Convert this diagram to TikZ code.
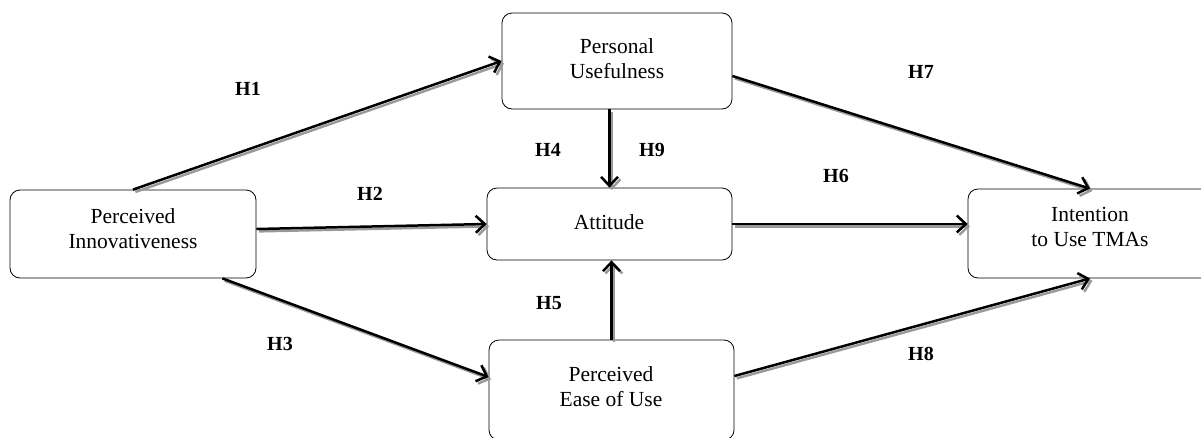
\documentclass[tikz,border=0pt]{standalone}
\usepackage{fontspec}
\setmainfont{Liberation Serif}
\usetikzlibrary{arrows.meta}
% a hypothesised path: grey drop shadow first, then the black arrow
\newcommand\hpath[2]{%
  \begin{scope}[transform canvas={shift={(2.4pt,-2.4pt)}}]
    \draw[shadowline] #1 -- #2;
  \end{scope}
  \draw[link] #1 -- #2;}
\begin{document}
\begin{tikzpicture}[x=1pt,y=-1pt,
  box/.style={draw, line width=0.8pt, rounded corners=10pt, inner sep=0pt},
  boxtext/.style={align=center, font=\fontsize{21.5}{25}\selectfont, inner sep=0pt},
  hyp/.style={font=\fontsize{20}{24}\selectfont\bfseries, inner sep=0pt},
  tip/.style={-{Straight Barb[length=9pt,width=17pt]}},
  link/.style={tip, line width=2.5pt},
  shadowline/.style={tip, draw=black!40, line width=2.4pt}
]
\useasboundingbox (0,0) rectangle (1201,437);
\clip (0,0) rectangle (1201,437);

% construct boxes
\node[box, minimum width=246pt, minimum height=88pt] (pi)  at (133,234)   {};
\node[box, minimum width=230pt, minimum height=96pt] (pu)  at (617,61)    {};
\node[box, minimum width=245pt, minimum height=72pt] (att) at (609.5,224) {};
\node[box, minimum width=245pt, minimum height=100pt] (eou) at (611.5,390) {};
\node[box, minimum width=244pt, minimum height=89pt] (int) at (1090,233.5) {};

% construct names
\node[boxtext] (piT)  at (133,228.5) {Perceived\\Innovativeness};
\node[boxtext] (puT)  at (617,59)    {Personal\\Usefulness};
\node[boxtext] (attT) at (609,222.5) {Attitude};
\node[boxtext] (eouT) at (611,387)   {Perceived\\Ease of Use};
\node[boxtext] (intT) at (1090,226.5) {Intention\\to Use TMAs};

% hypothesised paths
\hpath{(pi.north)}{(pu.west)}
\hpath{([yshift=5pt]pi.east)}{(att.west)}
\hpath{([xshift=-34pt]pi.south east)}{([yshift=13pt]eou.west)}
\hpath{(att.north |- pu.south)}{(att.north)}
\hpath{(eou.north)}{(eou.north |- att.south)}
\hpath{(att.east)}{(att.east -| int.west)}
\hpath{([yshift=-15pt]pu.east)}{(int.north)}
\hpath{([yshift=14pt]eou.east)}{(int.south)}

% hypothesis labels
\node[hyp] (h1) at (248,88.5) {H1};
\node[hyp] (h2) at (370,194)  {H2};
\node[hyp] (h3) at (280,344)  {H3};
\node[hyp] (h4) at (548,150)  {H4};
\node[hyp] (h9) at (652,150)  {H9};
\node[hyp] (h5) at (549,303)  {H5};
\node[hyp] (h6) at (836,176)  {H6};
\node[hyp] (h7) at (921,72)   {H7};
\node[hyp] (h8) at (921,354)  {H8};
\end{tikzpicture}
\end{document}
